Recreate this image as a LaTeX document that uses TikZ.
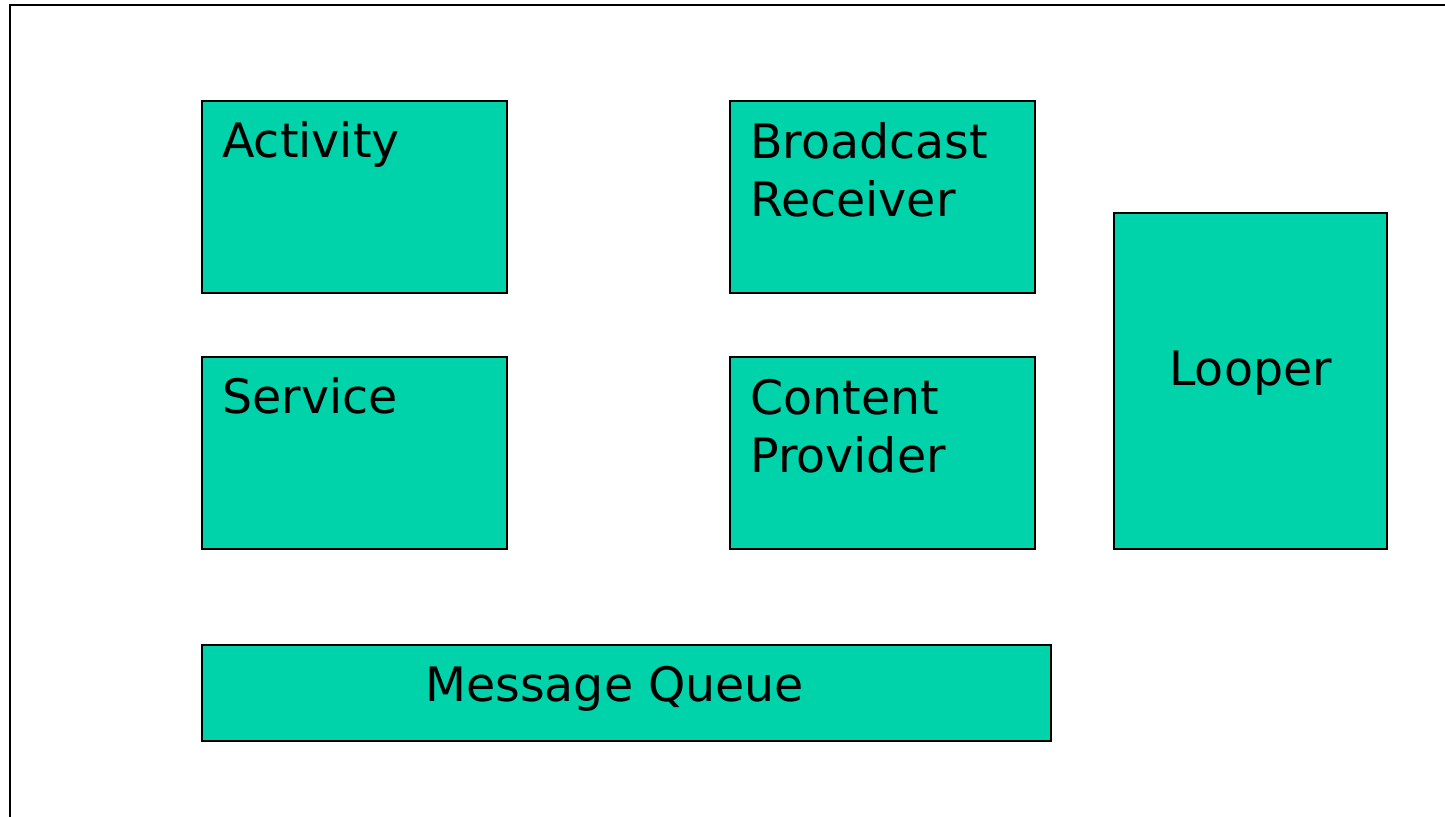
\documentclass[tikz,border=0pt]{standalone}
\usepackage{fontspec}
\setmainfont{DejaVu Sans}
\definecolor{compgreen}{RGB}{0,210,170}
\tikzset{
  comp/.style={fill=compgreen,draw=black,line width=1.3pt},
  lbl/.style={anchor=base west,inner sep=0pt,align=left,font=\fontsize{27}{33.5}\selectfont}
}
\begin{document}
\begin{tikzpicture}[x=0.02cm,y=-0.02cm]
      \useasboundingbox (0,0) rectangle (1445,817);
      \clip (0,0) rectangle (1445,817);
      \draw[line width=1.3pt] (10,5) rectangle (1480,850); % outer frame

      \draw[comp] (202,101) rectangle (507,293); % activity box
      \node[lbl] (act) at (222,158) {Activity}; % activity text

      \draw[comp] (730,101) rectangle (1035,293); % receiver box
      \node[lbl] (recv) at (750,217) {Broadcast\\Receiver}; % receiver text (base = last line)

      \draw[comp] (202,357) rectangle (507,549); % service box
      \node[lbl] (serv) at (222,414) {Service}; % service text

      \draw[comp] (730,357) rectangle (1035,549); % provider box
      \node[lbl] (prov) at (750,473) {Content\\Provider}; % provider text (base = last line)

      \draw[comp] (1114,213) rectangle (1387,549); % looper box
      \node[lbl] (loop) at (1169,386) {Looper}; % looper text

      \draw[comp] (202,645) rectangle (1051,741); % queue box
      \node[lbl] (queue) at (425,702) {Message Queue}; % queue text
\end{tikzpicture}
\end{document}
